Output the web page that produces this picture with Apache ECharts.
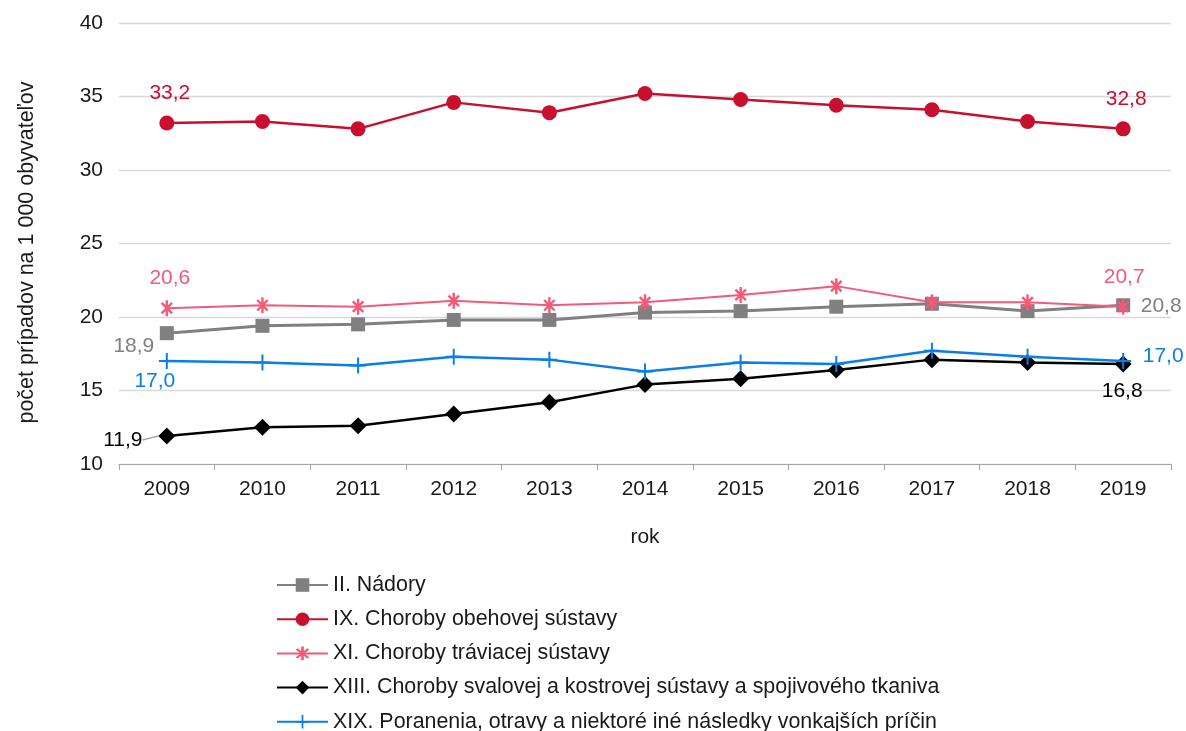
<!DOCTYPE html>
<html>
<head>
<meta charset="utf-8">
<script src="https://cdn.jsdelivr.net/npm/echarts@6/dist/echarts.min.js"></script>
<style>
  html, body { margin: 0; padding: 0; background: #fff; }
  #chart { width: 1186px; height: 731px; }
</style>
</head>
<body>
<div id="chart"></div>
<script>
// Years on the x axis
const years = ['2009','2010','2011','2012','2013','2014','2015','2016','2017','2018','2019'];

// Cases per 1 000 inhabitants by diagnosis chapter
const nadory      = [18.9, 19.4, 19.5, 19.8, 19.8, 20.3, 20.4, 20.7, 20.9, 20.4, 20.8];
const obehova     = [33.2, 33.3, 32.8, 34.6, 33.9, 35.2, 34.8, 34.4, 34.1, 33.3, 32.8];
const traviaca    = [20.6, 20.8, 20.7, 21.1, 20.8, 21.0, 21.5, 22.1, 21.0, 21.0, 20.7];
const svalova     = [11.9, 12.5, 12.6, 13.4, 14.2, 15.4, 15.8, 16.4, 17.1, 16.9, 16.8];
const poranenia   = [17.0, 16.9, 16.7, 17.3, 17.1, 16.3, 16.9, 16.8, 17.7, 17.3, 17.0];

const seriesNames = [
  'II. Nádory',
  'IX. Choroby obehovej sústavy',
  'XI. Choroby tráviacej sústavy',
  'XIII. Choroby svalovej a kostrovej sústavy a spojivového tkaniva',
  'XIX. Poranenia, otravy a niektoré iné následky vonkajších príčin'
];

// Value-axis ticks
const yMin = 10, yMax = 40, yStep = 5;

const FONT = '"Liberation Sans", Arial, sans-serif';
const FS = 21;

// Marker shapes drawn as filled outlines
const asteriskPath = 'path://M6.8,0H9.2V16H6.8Z M1.9,3.6L3.6,1.9L14.1,12.4L12.4,14.1Z M1.9,12.4L12.4,1.9L14.1,3.6L3.6,14.1Z';
const plusPath = 'path://M7,0H9V16H7Z M0,7H16V9H0Z';

function fmt(p) { return p.value.toFixed(1).replace('.', ','); }

// Value labels only on the first and last year, placed around the marker
function endLabels(values, color, firstOffset, lastOffset) {
  return values.map((v, i) => {
    if (i === 0 || i === values.length - 1) {
      const off = i === 0 ? firstOffset : lastOffset;
      return {
        value: v,
        label: {
          show: true,
          position: 'inside',
          offset: off,
          color: color,
          fontSize: FS,
          fontFamily: FONT,
          align: 'center',
          verticalAlign: 'middle',
          formatter: fmt
        }
      };
    }
    return v;
  });
}

const cRed = '#C8102E';
const cPink = '#F25A78';
const cGray = '#808080';
const cBlack = '#000000';
const cBlue = '#0A7FE3';

// Black series: first label is pushed left and joined to its marker by a short guide line
const svalovaData = endLabels(svalova, cBlack, [0, 0], [0, 0]);
svalovaData[0].labelLine = { show: true, lineStyle: { color: '#a6a6a6', width: 1.5 } };

const chart = echarts.init(document.getElementById('chart'), null, { renderer: 'canvas' });

chart.setOption({
  animation: false,
  backgroundColor: '#ffffff',
  textStyle: { fontFamily: FONT },
  grid: { left: 119, right: 15, top: 23, bottom: 267, containLabel: false },
  legend: {
    orient: 'vertical',
    left: 276,
    top: 573,
    height: 170,
    padding: 0,
    itemWidth: 51,
    itemHeight: 17,
    itemGap: 10.2,
    textStyle: { fontSize: 21.4, color: '#1a1a1a', fontFamily: FONT, lineHeight: 24 },
    data: seriesNames
  },
  xAxis: {
    type: 'category',
    data: years,
    boundaryGap: true,
    name: 'rok',
    nameLocation: 'middle',
    nameGap: 63,
    nameTextStyle: { fontSize: FS, color: '#1a1a1a', fontFamily: FONT },
    axisLine: { lineStyle: { color: '#a6a6a6', width: 1 } },
    axisTick: { show: true, length: 6, lineStyle: { color: '#a6a6a6' } },
    axisLabel: { fontSize: FS, color: '#1a1a1a', margin: 15, fontFamily: FONT },
    splitLine: { show: false }
  },
  yAxis: {
    type: 'value',
    min: yMin,
    max: yMax,
    interval: yStep,
    name: 'počet prípadov na 1 000 obyvateľov',
    nameLocation: 'middle',
    nameGap: 81,
    nameRotate: 90,
    nameTextStyle: { fontSize: 21.5, color: '#1a1a1a', fontFamily: FONT, padding: [0, 18, 0, 0] },
    axisLine: { show: false },
    axisTick: { show: false },
    axisLabel: { fontSize: FS, color: '#1a1a1a', margin: 16, fontFamily: FONT },
    splitLine: { lineStyle: { color: '#d9d9d9', width: 1.3 } }
  },
  series: [
    {
      name: seriesNames[0],
      type: 'line',
      data: endLabels(nadory, cGray, [-33, 13], [38, 1]),
      symbol: 'rect',
      symbolSize: 14,
      lineStyle: { color: cGray, width: 3 },
      itemStyle: { color: cGray },
      z: 2
    },
    {
      name: seriesNames[1],
      type: 'line',
      data: endLabels(obehova, cRed, [3, -30], [3, -30]),
      symbol: 'circle',
      symbolSize: 15,
      lineStyle: { color: cRed, width: 2.5 },
      itemStyle: { color: cRed },
      z: 3
    },
    {
      name: seriesNames[2],
      type: 'line',
      data: endLabels(traviaca, cPink, [3, -30], [1, -30]),
      symbol: asteriskPath,
      symbolSize: 16,
      symbolKeepAspect: true,
      lineStyle: { color: cPink, width: 2 },
      itemStyle: { color: cPink },
      z: 4
    },
    {
      name: seriesNames[3],
      type: 'line',
      data: svalovaData,
      symbol: 'diamond',
      symbolSize: 17,
      lineStyle: { color: cBlack, width: 2.5 },
      itemStyle: { color: cBlack },
      labelLayout: (params) => params.dataIndex === 0 ? { dx: -44, dy: 4 } : { dx: -1, dy: 27 },
      z: 5
    },
    {
      name: seriesNames[4],
      type: 'line',
      data: endLabels(poranenia, cBlue, [-12, 20], [40, -5]),
      symbol: plusPath,
      symbolSize: 16,
      symbolKeepAspect: true,
      lineStyle: { color: cBlue, width: 2.5 },
      itemStyle: { color: cBlue },
      z: 6
    }
  ]
});
</script>
</body>
</html>
